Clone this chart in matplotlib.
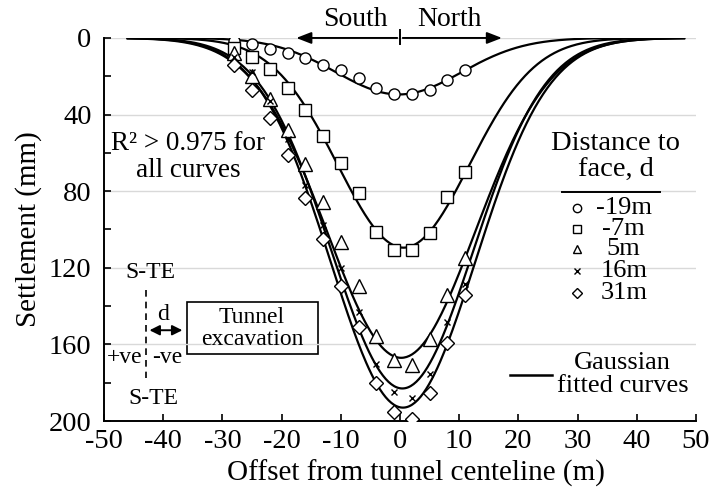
import numpy as np
import matplotlib
matplotlib.use("Agg")
import matplotlib.pyplot as plt
from matplotlib.patches import Rectangle

plt.rcParams["font.family"] = ["Liberation Serif", "DejaVu Serif"]
plt.rcParams["axes.unicode_minus"] = False

# measured settlement (mm) at each offset (m) for each distance to face
offsets = [-28, -25, -22, -19, -16, -13, -10, -7, -4, -1, 2, 5, 8, 11]
s_m19 = [1.4, 3.1, 5.9, 8.0, 10.6, 14.1, 16.7, 21.1, 26.3, 29.3, 29.3, 27.2, 21.9, 16.7]
s_m7 = [5.4, 10.1, 16.2, 26.3, 37.6, 51.0, 65.1, 81.1, 101.2, 110.8, 110.8, 102.0, 83.2, 69.8]
s_5 = [8, 20, 32, 48, 66, 85.5, 106.4, 129.6, 155.7, 168, 170.8, 157.4, 134.3, 115.1]
s_16 = [10, 18, 33, 53, 76.8, 97.7, 120.3, 142.9, 170.4, 185, 188.2, 175.2, 148.2, 128.2]
s_31 = [14.1, 27.2, 42, 61.1, 83.8, 105.2, 129.6, 150.8, 180.4, 195.4, 198.7, 185.6, 159.5, 134.3]

labels = ["-19m", "-7m", "5m", "16m", "31m"]
markers = ["o", "s", "^", "x", "D"]

# Gaussian fit parameters: Smax (mm), i (m), centre (m)
smax = [29.5, 109.5, 167, 183, 193]
width = [10.6, 11.1, 12.5, 12.0, 12.2]
centre = [-0.2, 0.6, 0.2, 0.4, 0.5]

fig = plt.figure(figsize=(7.13, 4.93), dpi=100)
ax = fig.add_axes([0.146, 0.146, 0.830, 0.777])

xs = np.linspace(-46, 48, 400)
for S, i, c in zip(smax, width, centre):
    ax.plot(xs, S * np.exp(-(xs - c) ** 2 / (2 * i ** 2)), color="black", lw=1.6, zorder=3)

series = [s_m19, s_m7, s_5, s_16, s_31]
sizes = {"o": 8, "s": 8, "^": 9.5, "x": 5, "D": 7}
for vals, m in zip(series, markers):
    if m == "x":
        ax.plot(offsets, vals, ls="none", marker=m, ms=sizes[m], mec="black", mew=1.0, zorder=4)
    else:
        ax.plot(offsets, vals, ls="none", marker=m, ms=sizes[m], mfc="white", mec="black",
                mew=1.0, zorder=4)

ax.set_xlim(-50, 50)
ax.set_ylim(200, 0)
ax.set_xticks(np.arange(-50, 51, 10))
ax.set_yticks(np.arange(0, 201, 40))
ax.set_yticks(np.arange(0, 201, 20), minor=True)
ax.tick_params(axis="both", which="both", direction="in", length=5, width=1.2, labelsize=20.5)
ax.tick_params(axis="y", pad=9)
ax.tick_params(axis="x", pad=6)
ax.grid(axis="y", which="major", color="#d9d9d9", lw=1.0, zorder=0)
for side in ["top", "right"]:
    ax.spines[side].set_visible(False)
for side in ["left", "bottom"]:
    ax.spines[side].set_linewidth(1.4)

ax.set_xlabel("Offset from tunnel centeline (m)", fontsize=21)
ax.set_ylabel("Settlement (mm)", fontsize=21)
ax.xaxis.set_label_coords(0.527, -0.1)
ax.yaxis.set_label_coords(-0.105, 0.5)

# South / North arrows
ax.annotate("", xy=(-18, 0), xytext=(0, 0), annotation_clip=False,
            arrowprops=dict(arrowstyle="-|>,head_length=0.9,head_width=0.35", color="black", lw=1.4))
ax.annotate("", xy=(17.7, 0), xytext=(0, 0), annotation_clip=False,
            arrowprops=dict(arrowstyle="-|>,head_length=0.9,head_width=0.35", color="black", lw=1.4))
ax.plot([0, 0], [-4, 3], color="black", lw=1.4, clip_on=False)
ax.text(-7.6, -9.8, "South", fontsize=20, ha="center", va="center")
ax.text(8.3, -9.8, "North", fontsize=20, ha="center", va="center")

ax.text(-35.8, 62, "R² > 0.975 for\nall curves", fontsize=19.5, ha="center", va="center",
        linespacing=1.1)

# schematic of distance to face
fs = 17
ax.text(-42.1, 122.6, "S-TE", fontsize=fs, ha="center", va="center")
ax.text(-41.7, 188.2, "S-TE", fontsize=fs, ha="center", va="center")
ax.plot([-43.0, -43.0], [131.7, 177.6], color="black", lw=1.2, ls=(0, (4, 3)))
ax.annotate("", xy=(-36.3, 152.6), xytext=(-42.8, 152.6),
            arrowprops=dict(arrowstyle="<|-|>,head_length=0.6,head_width=0.3", color="black", lw=1.4))
ax.text(-40.0, 144.2, "d", fontsize=fs, ha="center", va="center")
ax.add_patch(Rectangle((-36.0, 137.8), 22.2, 27.3, fill=False, ec="black", lw=1.2))
ax.text(-25.0, 151.5, "Tunnel\nexcavation", fontsize=fs, ha="center", va="center",
        linespacing=1.05)
ax.text(-46.5, 166.8, "+ve", fontsize=fs, ha="center", va="center")
ax.text(-39.4, 166.8, "-ve", fontsize=fs, ha="center", va="center")

# legend drawn by hand
ax.text(36.5, 62, "Distance to\nface, d", fontsize=20.5, ha="center", va="center", linespacing=1.05)
ax.plot([27.4, 43.9], [80.5, 80.5], color="black", lw=1.4)
rows = [89, 99.8, 110.4, 121.6, 133]
for y, m, lab in zip(rows, markers, labels):
    if m == "x":
        ax.plot(29.95, y, marker=m, ms=4, mec="black", mew=1.0)
    else:
        ax.plot(29.95, y, marker=m, ms=6 if m != "D" else 5, mfc="white", mec="black", mew=1.0)
    ax.text(37.8, y, lab, fontsize=19, ha="center", va="center")

ax.plot([18.6, 25.7], [176.1, 176.1], color="black", lw=1.8)
ax.text(37.6, 175.5, "Gaussian\nfitted curves", fontsize=19, ha="center", va="center",
        linespacing=1.05)

fig.savefig("out.png", dpi=100)
